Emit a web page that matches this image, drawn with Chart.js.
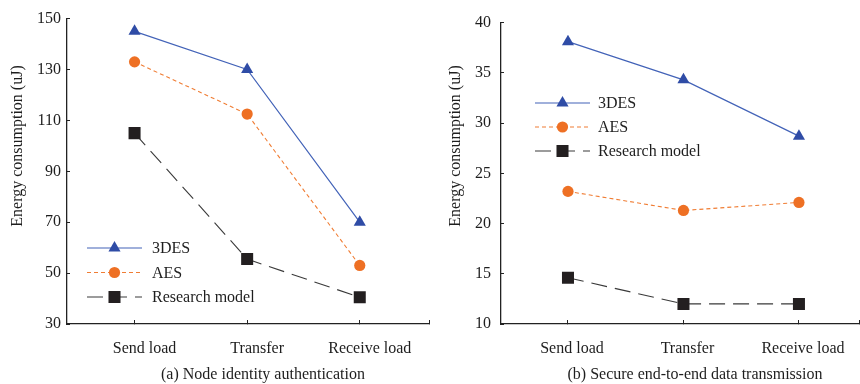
<!DOCTYPE html>
<html>
<head>
<meta charset="utf-8">
<script src="https://cdn.jsdelivr.net/npm/chart.js@4.4.1/dist/chart.umd.min.js"></script>
<style>
html,body{margin:0;padding:0;background:#fff}
#wrap{position:relative;width:860px;height:384px;overflow:hidden}
.panel{position:absolute;top:0;width:430px;height:384px}
</style>
</head>
<body>
<div id="wrap">
  <div class="panel" style="left:0"><canvas id="authChart" width="430" height="384"></canvas></div>
  <div class="panel" style="left:430px"><canvas id="transChart" width="430" height="384"></canvas></div>
</div>
<script>
/* Energy use of 3DES / AES / research model, two scenarios */

var CATEGORIES = ['Send load', 'Transfer', 'Receive load'];
var SERIES = ['3DES', 'AES', 'Research model'];

// (a) node identity authentication, uJ
var AUTH_3DES = [145, 130, 70];
var AUTH_AES = [133, 112.5, 53];
var AUTH_MODEL = [105, 55.5, 40.5];
var AUTH_TICKS = [30, 50, 70, 90, 110, 130, 150];

// (b) secure end-to-end data transmission, uJ
var TRANS_3DES = [38.1, 34.3, 28.7];
var TRANS_AES = [23.2, 21.3, 22.1];
var TRANS_MODEL = [14.6, 12, 12];
var TRANS_TICKS = [10, 15, 20, 25, 30, 35, 40];

var TEXT = '#1e1e1e';
var FONT_FAMILY = '"Liberation Serif", "Times New Roman", serif';
var FONT_PX = 16;

function pts(arr){
  return arr.map(function(v, i){ return {x:i, y:v}; });
}

function datasets(a, b, c){
  return [
    { label:SERIES[0], data:pts(a), borderColor:'#4363b8', borderWidth:1.2,
      pointStyle:'triangle', pointRadius:7, pointBackgroundColor:'#2f4ca6',
      pointBorderColor:'#2f4ca6', pointBorderWidth:0 },
    { label:SERIES[1], data:pts(b), borderColor:'#f07d34', borderWidth:1.1, borderDash:[4,3],
      pointStyle:'circle', pointRadius:5.6, pointBackgroundColor:'#ee7024',
      pointBorderColor:'#ee7024', pointBorderWidth:0 },
    { label:SERIES[2], data:pts(c), borderColor:'#3a3a3a', borderWidth:1.1, borderDash:[16,8],
      pointStyle:'rect', pointRadius:8.5, pointBackgroundColor:'#231f20',
      pointBorderColor:'#231f20', pointBorderWidth:0 }
  ];
}

/* legend: line with the marker in the middle, like the series themselves */
var lineLegend = {
  id:'lineLegend',
  afterDatasetsDraw: function(chart, args, o){
    var ctx = chart.ctx;
    chart.data.datasets.forEach(function(ds, i){
      var y = o.y + i*o.rowHeight;
      ctx.save();
      ctx.strokeStyle = ds.borderColor; ctx.lineWidth = ds.borderWidth;
      ctx.setLineDash(ds.borderDash || []);
      ctx.beginPath(); ctx.moveTo(o.x, y); ctx.lineTo(o.x + o.lineLen, y); ctx.stroke();
      ctx.setLineDash([]);
      ctx.fillStyle = ds.pointBackgroundColor; ctx.strokeStyle = ds.pointBorderColor;
      Chart.helpers.drawPoint(ctx, {pointStyle:ds.pointStyle, radius:ds.pointRadius,
        borderWidth:0, rotation:0}, o.x + o.lineLen/2, y);
      ctx.fillStyle = TEXT;
      ctx.font = FONT_PX + 'px ' + FONT_FAMILY;
      ctx.textAlign = 'left'; ctx.textBaseline = 'middle';
      ctx.fillText(ds.label, o.x + o.lineLen + o.gap, y + 1);
      ctx.restore();
    });
  }
};

/* rotated y title + caption under the category labels */
var panelText = {
  id:'panelText',
  afterDraw: function(chart, args, o){
    var ctx = chart.ctx;
    ctx.save();
    ctx.fillStyle = TEXT;
    ctx.font = FONT_PX + 'px ' + FONT_FAMILY;
    ctx.textAlign = 'center'; ctx.textBaseline = 'middle';
    ctx.fillText(o.caption, o.captionX, o.captionY);
    ctx.translate(o.titleX, o.titleY);
    ctx.rotate(-Math.PI/2);
    ctx.fillText(o.yTitle, 0, 0);
    ctx.restore();
  }
};

function makeChart(id, cfg){
  var font = {family:FONT_FAMILY, size:FONT_PX};
  return new Chart(document.getElementById(id), {
    type:'line',
    data:{ datasets:datasets(cfg.a, cfg.b, cfg.c) },
    options:{
      responsive:false, animation:false,
      layout:{ autoPadding:false, padding:{top:17.5, right:1, left:0, bottom:0} },
      elements:{ line:{tension:0} },
      plugins:{
        legend:{display:false}, tooltip:{enabled:false},
        lineLegend:cfg.legend,
        panelText:cfg.text
      },
      scales:{
        x:{
          type:'linear', min:cfg.xMin, max:cfg.xMax,
          afterBuildTicks:function(s){
            s.ticks = [0, 1, 2, s.max].map(function(v){ return {value:v}; });
          },
          // labels sit well inside the axis, so no side padding is needed
          afterFit:function(s){ s.height = 60; s.paddingLeft = 0; s.paddingRight = 0; },
          border:{display:true, color:'#222', width:1.3},
          grid:{display:true, drawOnChartArea:false, drawTicks:true, tickLength:-4, color:'#222', lineWidth:1},
          ticks:{
            color:TEXT, font:font, padding:19, maxRotation:0, autoSkip:false,
            labelOffset:cfg.labelOffset,
            callback:function(v){ return CATEGORIES[v] || ''; }
          }
        },
        y:{
          min:cfg.ticks[0], max:cfg.ticks[cfg.ticks.length-1],
          afterBuildTicks:function(s){
            s.ticks = cfg.ticks.map(function(v){ return {value:v}; });
          },
          afterFit:function(s){ s.width = cfg.axisX; },
          border:{display:true, color:'#222', width:1.3},
          grid:{display:true, drawOnChartArea:false, drawTicks:true, tickLength:-3, color:'#222', lineWidth:1},
          ticks:{ color:TEXT, font:font, padding:cfg.yPad }
        }
      }
    },
    plugins:[lineLegend, panelText]
  });
}

makeChart('authChart', {
  a:AUTH_3DES, b:AUTH_AES, c:AUTH_MODEL, ticks:AUTH_TICKS,
  xMin:-0.6, xMax:2.615, labelOffset:10, axisX:67, yPad:9,
  legend:{x:87, y:248, rowHeight:24.5, lineLen:55, gap:10},
  text:{yTitle:'Energy consumption (uJ)', titleX:18, titleY:146,
        caption:'(a) Node identity authentication', captionX:263, captionY:375}
});

makeChart('transChart', {
  a:TRANS_3DES, b:TRANS_AES, c:TRANS_MODEL, ticks:TRANS_TICKS,
  xMin:-0.58, xMax:2.52, labelOffset:4, axisX:71, yPad:13,
  legend:{x:105, y:103, rowHeight:24, lineLen:55, gap:8},
  text:{yTitle:'Energy consumption (uJ)', titleX:26, titleY:146,
        caption:'(b) Secure end-to-end data transmission', captionX:265, captionY:375}
});
</script>
</body>
</html>
